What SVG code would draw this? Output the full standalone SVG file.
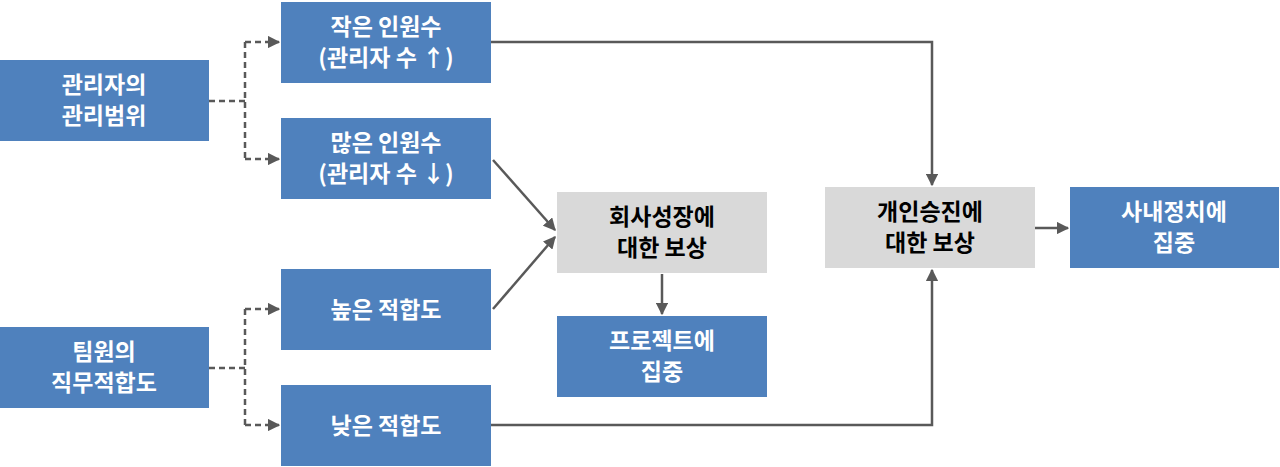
<svg xmlns="http://www.w3.org/2000/svg" width="1280" height="467" viewBox="0 0 1280 467">
<style>
.b{fill:#4f81bd}.g{fill:#d9d9d9}
.t{font-family:"Noto Sans CJK KR","Liberation Sans",sans-serif;font-size:23px;font-weight:bold;text-anchor:middle}
.w{fill:#fff}.k{fill:#000}
.c{stroke:#595959;stroke-width:2.5;fill:none}
.d{stroke-dasharray:6 4}
</style>
<defs><marker id="a" viewBox="0 0 10 10" refX="9" refY="5" markerWidth="5" markerHeight="5" orient="auto"><path d="M0,0L10,5L0,10z" fill="#595959"/></marker></defs>
<rect width="1280" height="467" fill="#fff"/>
<g id="connectors">
<path class="c d" d="M209,101H245M245,42V159" />
<path class="c d" d="M245,42H279" marker-end="url(#a)"/>
<path class="c d" d="M245,159H279" marker-end="url(#a)"/>
<path class="c d" d="M209,368H245M245,309V425"/>
<path class="c d" d="M245,309H279" marker-end="url(#a)"/>
<path class="c d" d="M245,425H279" marker-end="url(#a)"/>
<path class="c" d="M491,42H932V185" marker-end="url(#a)"/>
<path class="c" d="M493,160L555,230" marker-end="url(#a)"/>
<path class="c" d="M493,309L555,237" marker-end="url(#a)"/>
<path class="c" d="M662,274V314" marker-end="url(#a)"/>
<path class="c" d="M491,425H932V270" marker-end="url(#a)"/>
<path class="c" d="M1035,228H1068" marker-end="url(#a)"/>
</g>
<g id="n1"><rect class="b" x="0" y="60" width="209" height="81"/><text class="t w" x="104" y="93">관리자의</text><text class="t w" x="104" y="124">관리범위</text></g>
<g id="n2"><rect class="b" x="0" y="327" width="209" height="81"/><text class="t w" x="104" y="360">팀원의</text><text class="t w" x="104" y="391">직무적합도</text></g>
<g id="n3"><rect class="b" x="281" y="2" width="210" height="81"/><text class="t w" x="386" y="35">작은 인원수</text><text class="t w" x="386" y="66">(관리자 수 ↑)</text></g>
<g id="n4"><rect class="b" x="281" y="118" width="210" height="81"/><text class="t w" x="386" y="151">많은 인원수</text><text class="t w" x="386" y="182">(관리자 수 ↓)</text></g>
<g id="n5"><rect class="b" x="281" y="269" width="210" height="81"/><text class="t w" x="386" y="318">높은 적합도</text></g>
<g id="n6"><rect class="b" x="281" y="385" width="210" height="81"/><text class="t w" x="386" y="434">낮은 적합도</text></g>
<g id="n7"><rect class="g" x="557" y="192" width="210" height="81"/><text class="t k" x="662" y="225">회사성장에</text><text class="t k" x="662" y="256">대한 보상</text></g>
<g id="n8"><rect class="b" x="557" y="316" width="210" height="81"/><text class="t w" x="662" y="349">프로젝트에</text><text class="t w" x="662" y="380">집중</text></g>
<g id="n9"><rect class="g" x="825" y="187" width="210" height="81"/><text class="t k" x="930" y="220">개인승진에</text><text class="t k" x="930" y="251">대한 보상</text></g>
<g id="n10"><rect class="b" x="1070" y="187" width="209" height="81"/><text class="t w" x="1174" y="220">사내정치에</text><text class="t w" x="1174" y="251">집중</text></g>
</svg>
